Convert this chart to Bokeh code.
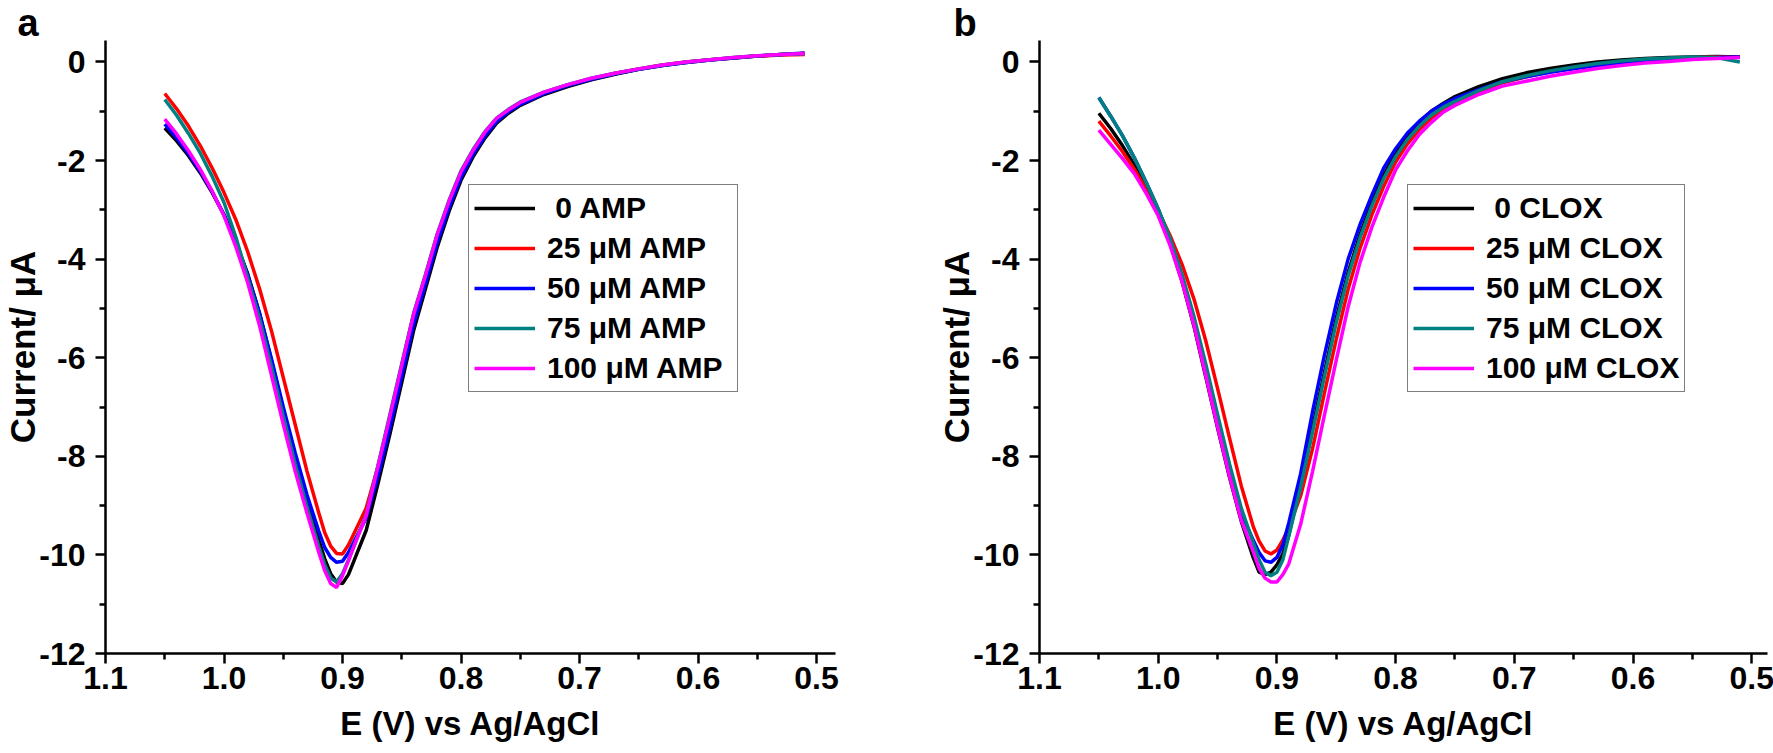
from bokeh.plotting import figure
from bokeh.models import Range1d, FixedTicker, PrintfTickFormatter
from bokeh.layouts import row
from bokeh.embed import file_html
from bokeh.resources import INLINE

# Potential grid (V vs Ag/AgCl)
E = [1.05, 1.04, 1.03, 1.02, 1.01, 1.00, 0.99, 0.98, 0.97, 0.96, 0.95, 0.94, 0.93, 0.92,
     0.915, 0.91, 0.905, 0.90, 0.895,
     0.89, 0.88, 0.87, 0.86, 0.85, 0.84, 0.83, 0.82, 0.81, 0.80, 0.79, 0.78, 0.77, 0.76, 0.75,
     0.73, 0.71, 0.69, 0.67, 0.65, 0.63, 0.61, 0.59, 0.57, 0.55, 0.53, 0.51]

# Panel a: AMP (current, uA)
A_0 = [-1.34, -1.60, -1.90, -2.25, -2.65, -3.10, -3.65, -4.30, -5.10, -6.05, -7.05, -8.00, -8.90, -9.70,
       -10.08, -10.38, -10.55, -10.58, -10.40,
       -10.10, -9.50, -8.55, -7.55, -6.50, -5.45, -4.60, -3.75, -3.02, -2.40, -1.93, -1.55, -1.24, -1.04, -0.88,
       -0.66, -0.50, -0.36, -0.25, -0.15, -0.07, -0.01, 0.04, 0.08, 0.12, 0.15, 0.17]
A_25 = [-0.64, -0.95, -1.30, -1.70, -2.15, -2.65, -3.20, -3.85, -4.60, -5.45, -6.40, -7.35, -8.30, -9.15,
        -9.55, -9.82, -9.97, -9.98, -9.80,
        -9.55, -9.05, -8.20, -7.20, -6.16, -5.13, -4.34, -3.51, -2.83, -2.24, -1.81, -1.44, -1.15, -0.98, -0.83,
        -0.62, -0.47, -0.34, -0.23, -0.14, -0.06, 0.00, 0.045, 0.085, 0.12, 0.14, 0.15]
A_50 = [-1.26, -1.54, -1.86, -2.22, -2.63, -3.10, -3.66, -4.32, -5.10, -6.02, -7.00, -7.92, -8.78, -9.52,
        -9.85, -10.05, -10.15, -10.13, -9.95,
        -9.72, -9.25, -8.40, -7.42, -6.38, -5.33, -4.50, -3.66, -2.95, -2.34, -1.88, -1.51, -1.21, -1.01, -0.86,
        -0.64, -0.48, -0.35, -0.24, -0.15, -0.07, -0.01, 0.04, 0.08, 0.12, 0.15, 0.18]
A_75 = [-0.76, -1.08, -1.45, -1.85, -2.32, -2.85, -3.55, -4.38, -5.20, -6.18, -7.18, -8.15, -9.02, -9.83,
        -10.20, -10.47, -10.55, -10.38, -10.10,
        -9.80, -9.18, -8.18, -7.15, -6.12, -5.10, -4.31, -3.48, -2.80, -2.21, -1.78, -1.42, -1.14, -0.96, -0.81,
        -0.61, -0.46, -0.33, -0.23, -0.14, -0.06, 0.00, 0.045, 0.09, 0.125, 0.15, 0.165]
A_100 = [-1.16, -1.46, -1.80, -2.18, -2.62, -3.12, -3.75, -4.48, -5.35, -6.35, -7.35, -8.30, -9.15, -9.95,
         -10.32, -10.58, -10.66, -10.42, -10.12,
         -9.80, -9.20, -8.20, -7.19, -6.15, -5.12, -4.33, -3.50, -2.82, -2.23, -1.80, -1.43, -1.145, -0.97, -0.82,
         -0.61, -0.46, -0.33, -0.23, -0.14, -0.06, 0.00, 0.045, 0.09, 0.125, 0.15, 0.17]

# Panel b: CLOX (current, uA)
B_0 = [-1.04, -1.35, -1.70, -2.10, -2.55, -3.05, -3.68, -4.45, -5.35, -6.38, -7.42, -8.42, -9.32, -10.05,
       -10.35, -10.40, -10.35, -10.20, -9.98,
       -9.60, -8.55, -7.42, -6.30, -5.20, -4.27, -3.50, -2.85, -2.30, -1.85, -1.50, -1.22, -1.00, -0.84, -0.70,
       -0.50, -0.34, -0.22, -0.13, -0.06, 0.00, 0.04, 0.07, 0.09, 0.10, 0.11, 0.10]
B_25 = [-1.20, -1.50, -1.82, -2.18, -2.58, -3.02, -3.52, -4.10, -4.80, -5.65, -6.62, -7.62, -8.60, -9.42,
        -9.72, -9.92, -9.98, -9.90, -9.70,
        -9.45, -8.80, -7.85, -6.72, -5.62, -4.61, -3.78, -3.10, -2.52, -2.03, -1.66, -1.37, -1.14, -0.96, -0.82,
        -0.60, -0.42, -0.30, -0.20, -0.12, -0.05, 0.00, 0.04, 0.07, 0.09, 0.10, 0.10]
B_50 = [-0.72, -1.10, -1.50, -1.95, -2.45, -2.98, -3.62, -4.40, -5.30, -6.32, -7.35, -8.32, -9.15, -9.70,
        -9.95, -10.12, -10.15, -10.05, -9.80,
        -9.35, -8.35, -7.10, -5.95, -4.90, -4.00, -3.30, -2.70, -2.15, -1.76, -1.44, -1.20, -1.00, -0.86, -0.74,
        -0.56, -0.40, -0.30, -0.21, -0.14, -0.07, -0.02, 0.02, 0.05, 0.07, 0.09, 0.10]
B_75 = [-0.72, -1.10, -1.50, -1.95, -2.45, -2.98, -3.58, -4.30, -5.15, -6.12, -7.15, -8.15, -9.05, -9.75,
        -10.10, -10.35, -10.42, -10.35, -10.10,
        -9.62, -8.63, -7.51, -6.39, -5.29, -4.34, -3.57, -2.92, -2.36, -1.92, -1.57, -1.30, -1.08, -0.92, -0.80,
        -0.58, -0.40, -0.28, -0.18, -0.10, -0.03, 0.02, 0.06, 0.08, 0.10, 0.09, 0.00]
B_100 = [-1.38, -1.67, -1.96, -2.27, -2.67, -3.12, -3.72, -4.45, -5.33, -6.35, -7.40, -8.40, -9.30, -9.93,
         -10.27, -10.47, -10.55, -10.55, -10.40,
         -10.18, -9.38, -8.31, -7.17, -6.05, -4.97, -4.07, -3.35, -2.74, -2.19, -1.80, -1.47, -1.23, -1.02, -0.88,
         -0.66, -0.49, -0.39, -0.29, -0.21, -0.13, -0.07, -0.02, 0.01, 0.05, 0.07, 0.09]

names_a = ["\u00a00 AMP", "25 \u03bcM AMP", "50 \u03bcM AMP", "75 \u03bcM AMP", "100 \u03bcM AMP"]
names_b = ["\u00a00 CLOX", "25 \u03bcM CLOX", "50 \u03bcM CLOX", "75 \u03bcM CLOX", "100 \u03bcM CLOX"]
colors = ["#000000", "#ff0000", "#0000ff", "#008080", "#ff00ff"]

x_ticks = [1.1, 1.0, 0.9, 0.8, 0.7, 0.6, 0.5]
x_minor = [1.05, 0.95, 0.85, 0.75, 0.65, 0.55]
y_ticks = [0, -2, -4, -6, -8, -10, -12]
y_minor = [-1, -3, -5, -7, -9, -11]

x_title = "E (V) vs Ag/AgCl"
y_title = "Current/ \u03bcA"

FONT = "Liberation Sans"


def panel(letter, series, names, b_left, frame_w, x_end, b_right, lg_x, lg_lw, letter_off):
    p = figure(frame_width=frame_w, frame_height=613,
               x_range=Range1d(1.1, x_end), y_range=Range1d(-12, 0.436),
               min_border_left=b_left, min_border_right=b_right,
               min_border_top=40, min_border_bottom=100,
               output_backend="svg", toolbar_location=None)
    p.outline_line_color = None
    p.xgrid.visible = False
    p.ygrid.visible = False

    # panel letter
    p.title.text = letter
    p.title.align = "left"
    p.title.offset = letter_off
    p.title.standoff = -6
    p.title.text_font = FONT
    p.title.text_font_style = "bold"
    p.title.text_font_size = "38px"
    p.title.text_color = "black"

    for ys, nm, c in zip(series, names, colors):
        p.line(E, ys, line_color=c, line_width=3.5, legend_label=nm)

    for ax in (p.xaxis[0], p.yaxis[0]):
        ax.axis_line_width = 2.5
        ax.axis_line_color = "black"
        ax.major_tick_line_width = 2.5
        ax.minor_tick_line_width = 2.5
        ax.major_tick_line_color = "black"
        ax.minor_tick_line_color = "black"
        ax.major_tick_in = 0
        ax.major_tick_out = 10
        ax.minor_tick_in = 0
        ax.minor_tick_out = 6
        ax.major_label_text_font = FONT
        ax.major_label_text_font_style = "bold"
        ax.major_label_text_font_size = "32px"
        ax.major_label_text_color = "black"
        ax.axis_label_text_font = FONT
        ax.axis_label_text_font_style = "bold"
        ax.axis_label_text_color = "black"
    p.xaxis[0].ticker = FixedTicker(ticks=x_ticks, minor_ticks=x_minor)
    p.xaxis[0].formatter = PrintfTickFormatter(format="%.1f")
    p.xaxis[0].major_label_standoff = 3
    p.xaxis[0].axis_label = x_title
    p.xaxis[0].axis_label_text_font_size = "33px"
    p.xaxis[0].axis_label_standoff = 13
    p.yaxis[0].ticker = FixedTicker(ticks=y_ticks, minor_ticks=y_minor)
    p.yaxis[0].formatter = PrintfTickFormatter(format="%d")
    p.yaxis[0].major_label_standoff = 10
    p.yaxis[0].axis_label = y_title
    p.yaxis[0].axis_label_text_font_size = "35px"
    p.yaxis[0].axis_label_standoff = -6

    lg = p.legend[0]
    lg.location = (lg_x, 261)
    lg.label_text_font = FONT
    lg.label_text_font_style = "bold"
    lg.label_text_font_size = "30px"
    lg.label_text_color = "black"
    lg.glyph_width = 61
    lg.glyph_height = 36
    lg.label_height = 36
    lg.label_width = lg_lw
    lg.label_standoff = 12
    lg.spacing = 4
    lg.padding = 5
    lg.margin = 0
    lg.border_line_color = "black"
    lg.border_line_width = 1.5
    lg.background_fill_alpha = 1.0
    return p


pa = panel("a", [A_0, A_25, A_50, A_75, A_100], names_a,
           100, 730, 0.484, 70, 363, 185, -88)
pb = panel("b", [B_0, B_25, B_50, B_75, B_100], names_b,
           134, 728, 0.4867, 8, 368, 192, -86)

layout = row(pa, pb)
open("out.html", "w").write(file_html(layout, INLINE))
